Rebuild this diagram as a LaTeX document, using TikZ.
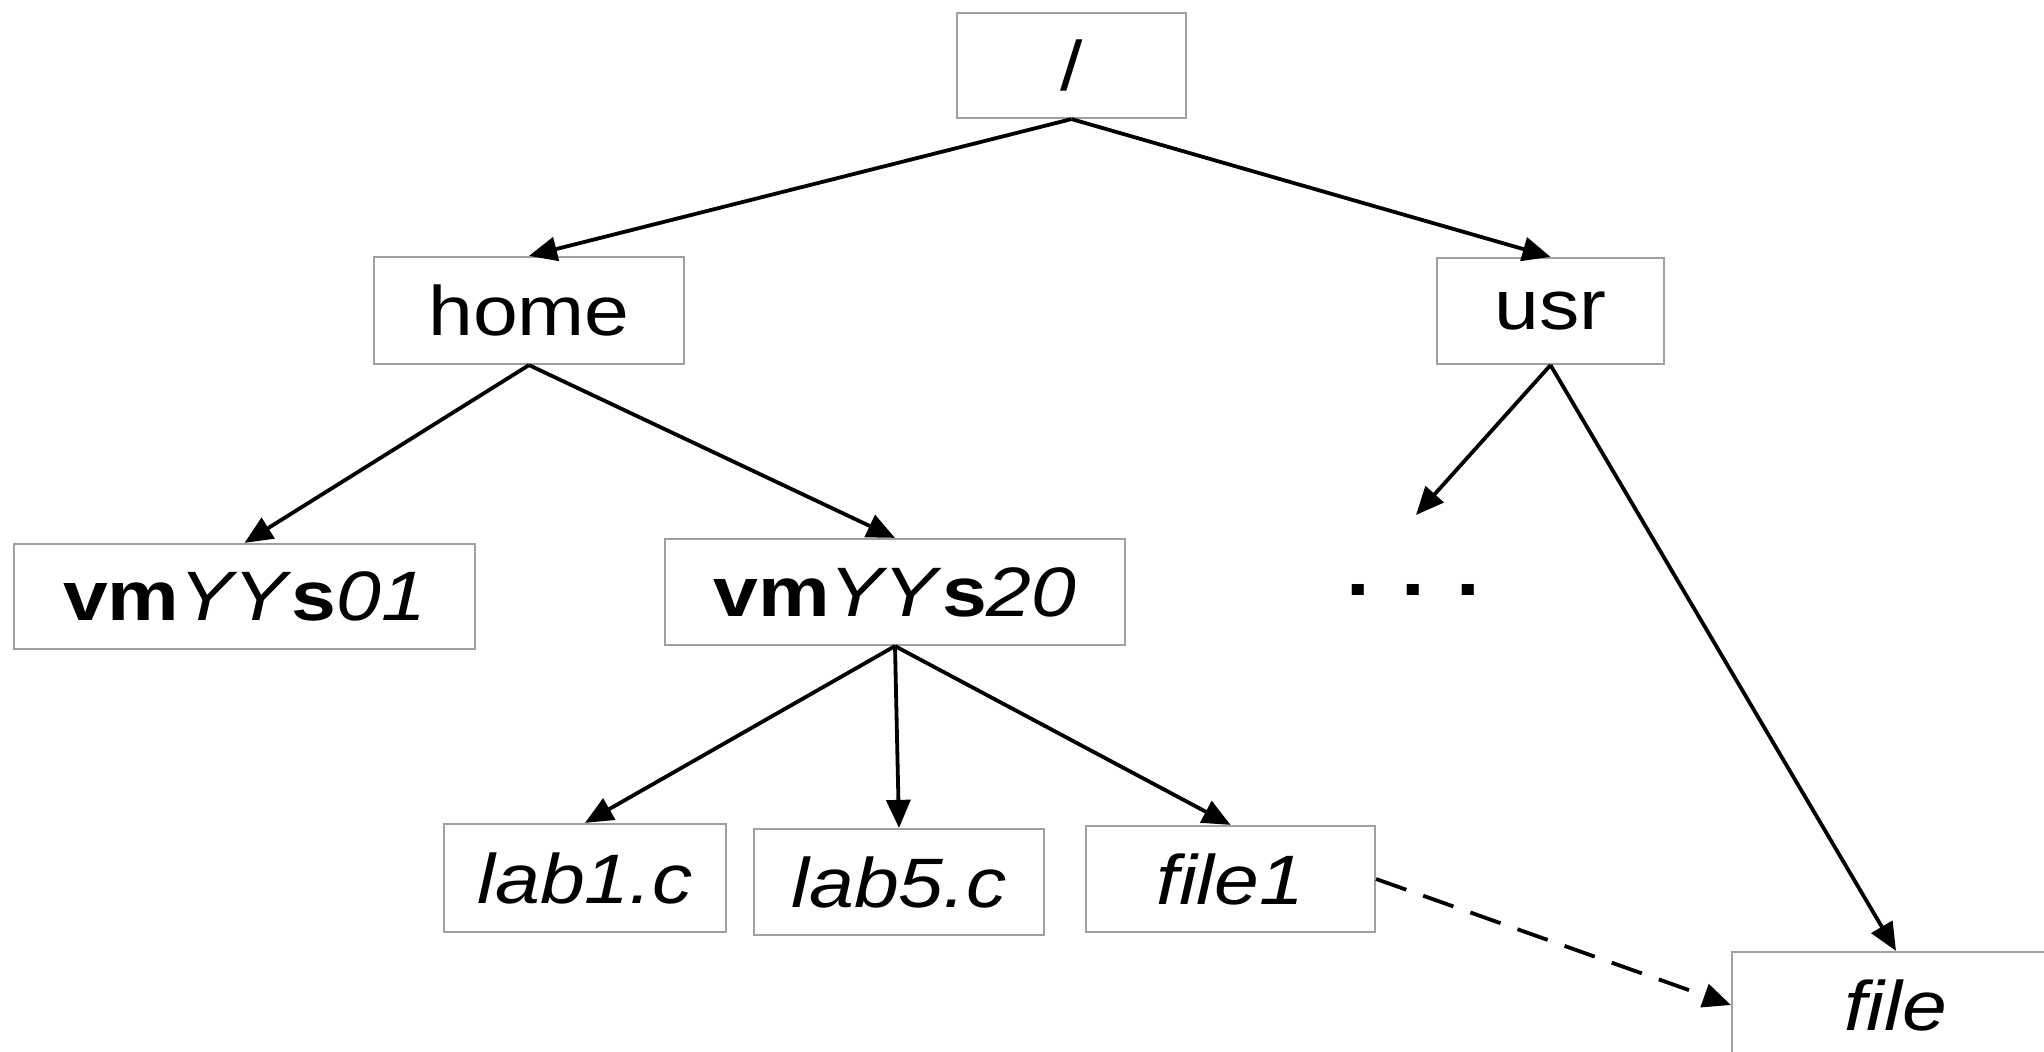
\documentclass[tikz,border=0pt]{standalone}
\usepackage{fontspec}
\setmainfont{Liberation Sans}[FakeStretch=1.15]
\usetikzlibrary{arrows.meta}
\definecolor{boxgray}{HTML}{A0A0A0}
\begin{document}
\begin{tikzpicture}[x=0.5pt,y=-0.5pt,
  fbox/.style={draw=boxgray, line width=1.1pt, inner sep=0pt, fill=white,
    font=\fontsize{35}{42}\selectfont},
  edge/.style={line width=1.9pt, -{Triangle[length=14pt,width=12pt]}},
  linkedge/.style={edge, dash pattern=on 16pt off 9pt}
]
\path[use as bounding box, clip] (0,0) rectangle (2044,1052);

\node[fbox, minimum width=114.5pt, minimum height=52.5pt] (root) at (1071.5,65.5) {/};
\node[fbox, minimum width=155pt, minimum height=53.5pt] (home) at (529,310.5) {home};
\node[fbox, minimum width=113.5pt, minimum height=53pt] (usr) at (1550.5,311) {usr};
\node[fbox, minimum width=230.5pt, minimum height=52.5pt] (v01) at (244.5,596.5) {\textbf{vm}\textit{YY}\textbf{s}\textit{01}};
\node[fbox, minimum width=230pt, minimum height=53pt] (v20) at (895,592) {\textbf{vm}\textit{YY}\textbf{s}\textit{20}};
\node[fbox, minimum width=141pt, minimum height=54pt] (lab1) at (585,878) {\textit{lab1.c}};
\node[fbox, minimum width=145pt, minimum height=53pt] (lab5) at (899,882) {\textit{lab5.c}};
\node[fbox, minimum width=144.5pt, minimum height=53pt] (file1) at (1230.5,879) {\textit{file1}};
\node[fbox, minimum width=164pt, minimum height=53pt] (file) at (1896,1005) {\textit{file}};
\node[font=\fontsize{37}{44}\selectfont\bfseries, anchor=base, inner sep=0pt] (dots) at (1413,596) {. . .};
\coordinate (dotsend) at (1416,515);

\draw[edge] (root.south) -- (home.north);
\draw[edge] (root.south) -- (usr.north);
\draw[edge] (home.south) -- (v01.north);
\draw[edge] (home.south) -- (v20.north);
\draw[edge] (v20.south) -- (lab1.north);
\draw[edge] (v20.south) -- (lab5.north);
\draw[edge] (v20.south) -- (file1.north);
\draw[edge] (usr.south) -- (dotsend);
\draw[edge] (usr.south) -- (file.north);
\draw[linkedge] (file1.east) -- (file.west);
\end{tikzpicture}
\end{document}
